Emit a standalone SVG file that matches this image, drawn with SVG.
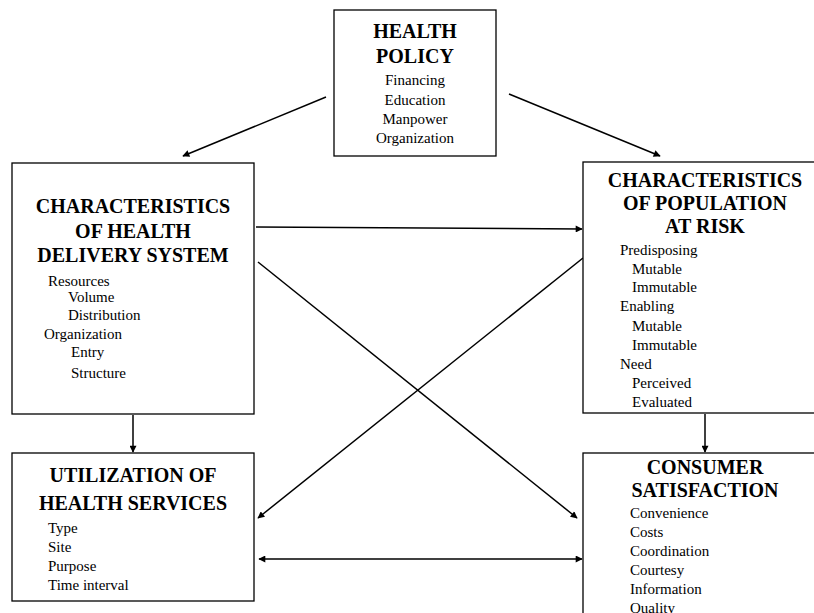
<svg xmlns="http://www.w3.org/2000/svg" width="814" height="613" viewBox="0 0 814 613">
<defs>
<marker id="ah" viewBox="0 0 10 10" refX="9" refY="5" markerWidth="8" markerHeight="7" markerUnits="userSpaceOnUse" orient="auto-start-reverse">
<path d="M0,0 L10,5 L0,10 z" fill="#000"/>
</marker>
<style>
.box{fill:#fff;stroke:#000;stroke-width:1.3}
.t{font-family:"Liberation Serif","Times New Roman",serif;font-weight:bold;font-size:20px;fill:#000;text-anchor:middle}
.i{font-family:"Liberation Serif","Times New Roman",serif;font-size:15px;fill:#000}
.c{text-anchor:middle}
.ln{stroke:#000;stroke-width:1.5;fill:none}
</style>
</defs>
<rect width="814" height="613" fill="#fff"/>
<g id="connectors">
<line class="ln" x1="326" y1="97" x2="183" y2="156" marker-end="url(#ah)"/>
<line class="ln" x1="509" y1="94" x2="660" y2="156" marker-end="url(#ah)"/>
<line class="ln" x1="256" y1="227" x2="582" y2="229" marker-end="url(#ah)"/>
<line class="ln" x1="258" y1="262" x2="577" y2="518" marker-end="url(#ah)"/>
<line class="ln" x1="583" y1="258" x2="258" y2="518" marker-end="url(#ah)"/>
<line class="ln" x1="133" y1="415" x2="133" y2="452" marker-end="url(#ah)"/>
<line class="ln" x1="705" y1="414" x2="705" y2="452" marker-end="url(#ah)"/>
<line class="ln" x1="259" y1="559" x2="582" y2="559" marker-start="url(#ah)" marker-end="url(#ah)"/>
</g>
<g id="health-policy">
<rect class="box" x="334" y="10" width="162" height="146"/>
<text class="t" x="415" y="38">HEALTH</text>
<text class="t" x="415" y="63">POLICY</text>
<text class="i c" x="415" y="85">Financing</text>
<text class="i c" x="415" y="105">Education</text>
<text class="i c" x="415" y="124">Manpower</text>
<text class="i c" x="415" y="143">Organization</text>
</g>
<g id="delivery-system">
<rect class="box" x="12" y="163" width="242" height="251"/>
<text class="t" x="133" y="213">CHARACTERISTICS</text>
<text class="t" x="133" y="238">OF HEALTH</text>
<text class="t" x="133" y="262">DELIVERY SYSTEM</text>
<text class="i" x="48" y="286">Resources</text>
<text class="i" x="68" y="302">Volume</text>
<text class="i" x="68" y="320">Distribution</text>
<text class="i" x="44" y="339">Organization</text>
<text class="i" x="71" y="357">Entry</text>
<text class="i" x="71" y="378">Structure</text>
</g>
<g id="population-at-risk">
<rect class="box" x="583" y="162" width="245" height="251"/>
<text class="t" x="705" y="187">CHARACTERISTICS</text>
<text class="t" x="705" y="210">OF POPULATION</text>
<text class="t" x="705" y="233">AT RISK</text>
<text class="i" x="620" y="255">Predisposing</text>
<text class="i" x="632" y="274">Mutable</text>
<text class="i" x="632" y="292">Immutable</text>
<text class="i" x="620" y="311">Enabling</text>
<text class="i" x="632" y="331">Mutable</text>
<text class="i" x="632" y="350">Immutable</text>
<text class="i" x="620" y="369">Need</text>
<text class="i" x="632" y="388">Perceived</text>
<text class="i" x="632" y="407">Evaluated</text>
</g>
<g id="utilization">
<rect class="box" x="12" y="453" width="242" height="148"/>
<text class="t" x="133" y="482">UTILIZATION OF</text>
<text class="t" x="133" y="510">HEALTH SERVICES</text>
<text class="i" x="48" y="533">Type</text>
<text class="i" x="48" y="552">Site</text>
<text class="i" x="48" y="571">Purpose</text>
<text class="i" x="48" y="590">Time interval</text>
</g>
<g id="consumer-satisfaction">
<rect class="box" x="583" y="453" width="245" height="180"/>
<text class="t" x="705" y="474">CONSUMER</text>
<text class="t" x="705" y="497">SATISFACTION</text>
<text class="i" x="630" y="518">Convenience</text>
<text class="i" x="630" y="537">Costs</text>
<text class="i" x="630" y="556">Coordination</text>
<text class="i" x="630" y="575">Courtesy</text>
<text class="i" x="630" y="594">Information</text>
<text class="i" x="630" y="613">Quality</text>
</g>
</svg>
